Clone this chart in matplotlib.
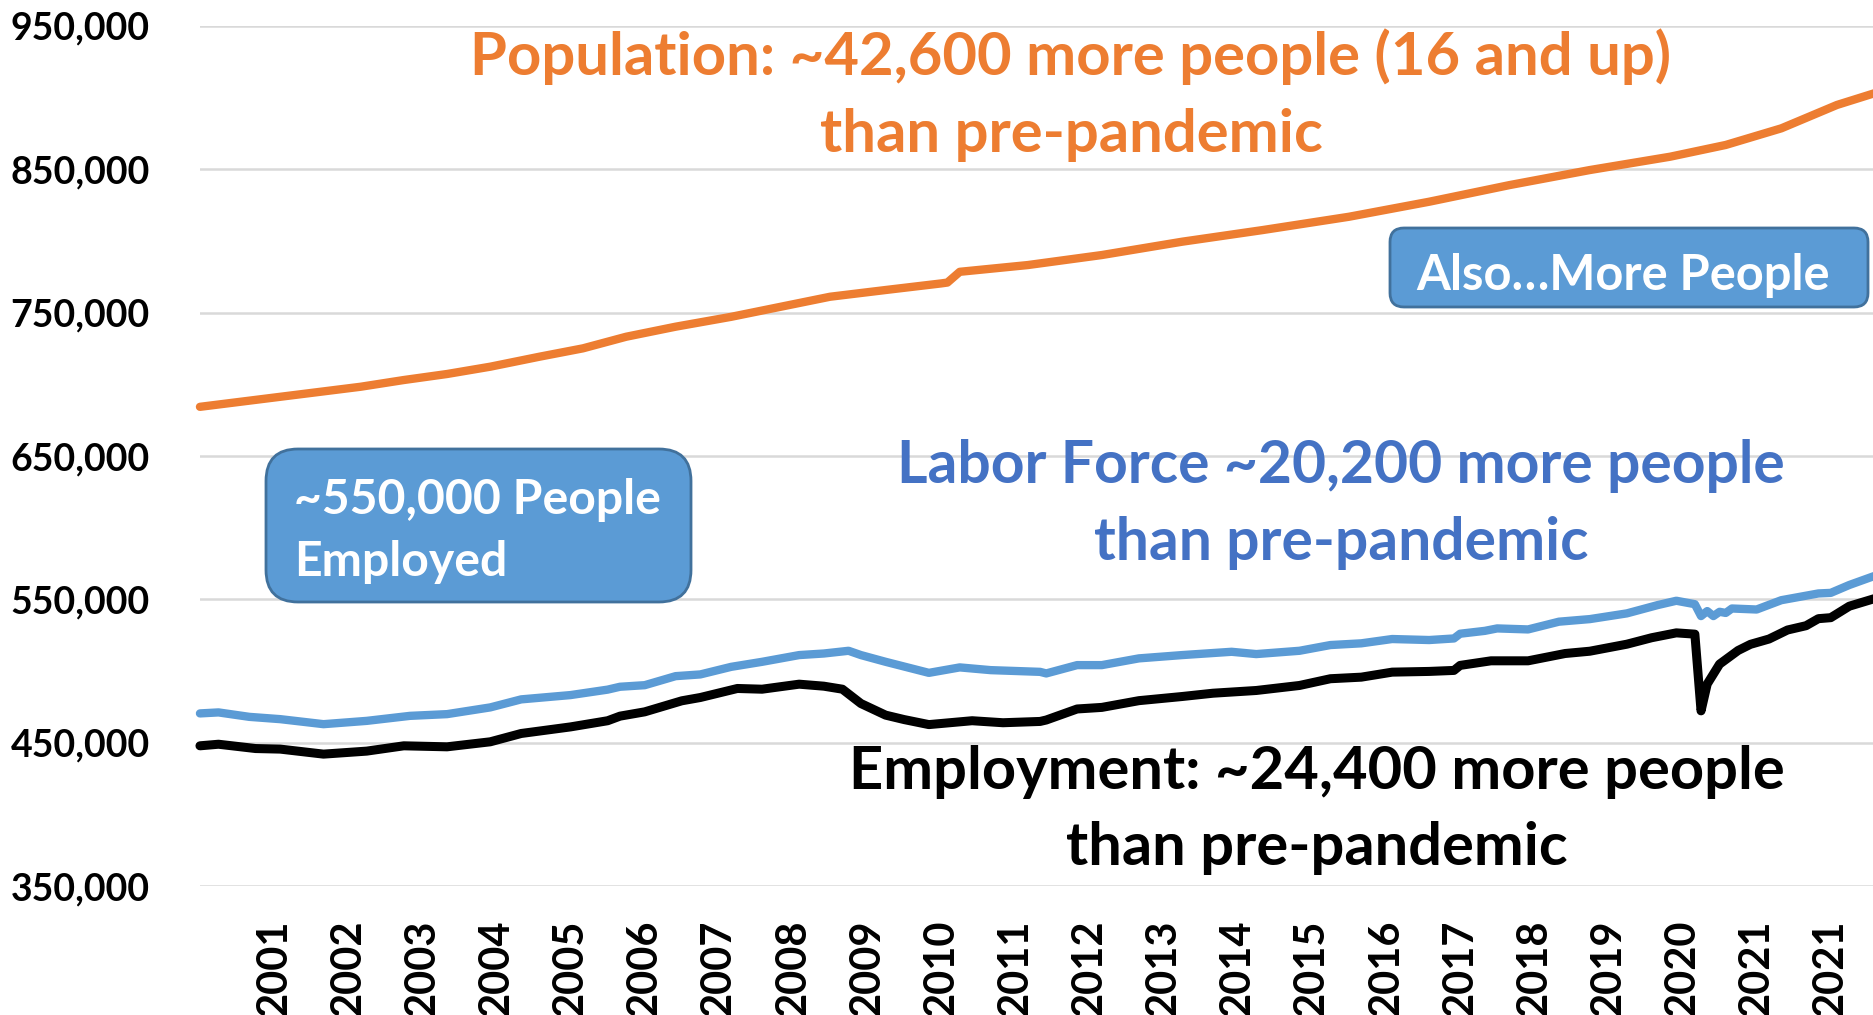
import matplotlib
matplotlib.use("Agg")
import matplotlib.pyplot as plt
from matplotlib.patches import FancyBboxPatch
from matplotlib.ticker import FuncFormatter

plt.rcParams['font.family'] = ['Lato', 'DejaVu Sans']
plt.rcParams['font.weight'] = 'bold'

# months counted from Jan 2000
pop_month = [0, 13, 26, 33, 40, 47, 55, 62, 69, 77, 86, 94, 102, 111, 120, 121,
             123, 134, 146, 159, 172, 186, 199, 212, 225, 238, 247, 256, 265, 271]
population = [684300, 691300, 698300, 703000, 707200, 712300, 719300, 725100,
              733200, 740200, 747100, 754100, 761100, 765800, 770400, 771000,
              778500, 783200, 790200, 799500, 807600, 816900, 827400, 839000,
              849500, 858800, 867000, 878600, 894900, 903000]

lf_month = [0, 3, 8, 13, 20, 27, 34, 40, 47, 52, 60, 66, 68, 72, 77, 81, 86, 91,
            97, 101, 105, 107, 111, 118, 123, 128, 136, 137, 142, 146, 152, 159,
            167, 171, 178, 183, 188, 193, 199, 203, 204, 208, 210, 215, 220, 225,
            231, 236, 239, 242, 243, 244, 245, 246, 247, 248, 252, 256, 262, 264,
            267, 271]
labor_force = [470400, 471100, 468000, 466400, 462900, 465200, 468700, 469900,
               474600, 480200, 483200, 487000, 489000, 490100, 496400, 497600,
               502900, 506400, 511100, 512200, 514100, 511100, 506400, 498700,
               502500, 500600, 499400, 498300, 504100, 504100, 508800, 511100,
               513400, 511800, 514100, 518100, 519300, 522300, 521600, 522700,
               526000, 528000, 529700, 529000, 534400, 536200, 540200, 546000,
               549000, 546600, 538300, 541800, 538300, 541300, 540500, 543600,
               542900, 549400, 554100, 554500, 560000, 566200]

emp_month = [0, 3, 9, 13, 20, 27, 33, 40, 47, 52, 60, 66, 68, 72, 78, 81, 87, 91,
             97, 101, 104, 107, 111, 114, 118, 125, 130, 136, 137, 142, 146, 152,
             159, 164, 171, 178, 183, 188, 193, 199, 203, 204, 209, 215, 221, 225,
             231, 235, 239, 242, 243, 244, 246, 249, 251, 254, 257, 260, 262, 264,
             267, 271]
employment = [447800, 448900, 445900, 445500, 442000, 444100, 447800, 447100,
              450600, 456400, 461000, 465300, 468500, 471500, 479200, 481500,
              487800, 487300, 490800, 489400, 487300, 477300, 469200, 466100,
              462600, 465300, 463900, 464800, 465800, 473500, 474600, 479300,
              482200, 484500, 486400, 489900, 494600, 495700, 499200, 499700,
              500400, 503900, 507100, 507100, 512200, 513800, 518700, 523200,
              526600, 525700, 472200, 490900, 504800, 514300, 518600, 522300,
              528600, 531600, 536500, 537200, 545200, 550400]

tick_month = [12 * (i + 1) for i in range(22)]
tick_labels = [str(y) for y in range(2001, 2022)] + ['2021']
y_ticks = [350000, 450000, 550000, 650000, 750000, 850000, 950000]

fig = plt.figure(figsize=(18.74, 10.15), dpi=100)
ax = fig.add_axes([0.1067, 0.1271, 0.8933, 0.8473])

ax.plot(pop_month, population, color='#ED7D31', lw=6, solid_capstyle='round', solid_joinstyle='round', clip_on=False, zorder=3)
ax.plot(lf_month, labor_force, color='#5B9BD5', lw=6, solid_capstyle='round', solid_joinstyle='round', clip_on=False, zorder=3)
ax.plot(emp_month, employment, color='black', lw=6.5, solid_capstyle='round', solid_joinstyle='round', clip_on=False, zorder=3)

ax.set_xlim(0, 271)
ax.set_ylim(350000, 950000)
ax.set_yticks(y_ticks)
ax.yaxis.set_major_formatter(FuncFormatter(lambda v, p: f'{int(v):,}'))
ax.set_xticks(tick_month)
ax.set_xticklabels(tick_labels, rotation=90)
ax.tick_params(axis='x', length=0, pad=24, labelsize=30)
ax.tick_params(axis='y', length=0, pad=36, labelsize=27)
ax.grid(axis='y', color='#d9d9d9', lw=1.8)
ax.set_axisbelow(True)
for s in ax.spines.values():
    s.set_visible(False)

# annotations (positions in figure pixels)
def ftext(x, y, s, **kw):
    fig.text(x / 1874, 1 - y / 1015, s, ha='center', va='center', fontweight='bold', **kw)

ftext(1071, 57, 'Population: ~42,600 more people (16 and up)', color='#ED7D31', fontsize=43)
ftext(1071, 135, 'than pre-pandemic', color='#ED7D31', fontsize=43)
ftext(1341, 466, 'Labor Force ~20,200 more people', color='#4472C4', fontsize=42.3)
ftext(1341, 543, 'than pre-pandemic', color='#4472C4', fontsize=42.3)
ftext(1317, 772, 'Employment: ~24,400 more people', color='black', fontsize=42.9)
ftext(1317, 848, 'than pre-pandemic', color='black', fontsize=42.9)

box1 = FancyBboxPatch((2.66, 4.13), 4.25, 1.53, boxstyle='round,pad=0,rounding_size=0.32',
                      transform=fig.dpi_scale_trans, fc='#5B9BD5', ec='#41719C', lw=2, zorder=5)
box2 = FancyBboxPatch((13.90, 7.08), 4.78, 0.79, boxstyle='round,pad=0,rounding_size=0.14',
                      transform=fig.dpi_scale_trans, fc='#5B9BD5', ec='#41719C', lw=2, zorder=5)
fig.add_artist(box1)
fig.add_artist(box2)
fig.text(294 / 1874, 1 - 500 / 1015, '~550,000 People', ha='left', va='center', color='white',
         fontsize=34.7, fontweight='bold', zorder=6)
fig.text(294 / 1874, 1 - 562 / 1015, 'Employed', ha='left', va='center', color='white',
         fontsize=34.7, fontweight='bold', zorder=6)
ftext(1623, 275, 'Also\u2026More People', color='white', fontsize=35.2, zorder=6)

fig.savefig('out.png', dpi=100)
